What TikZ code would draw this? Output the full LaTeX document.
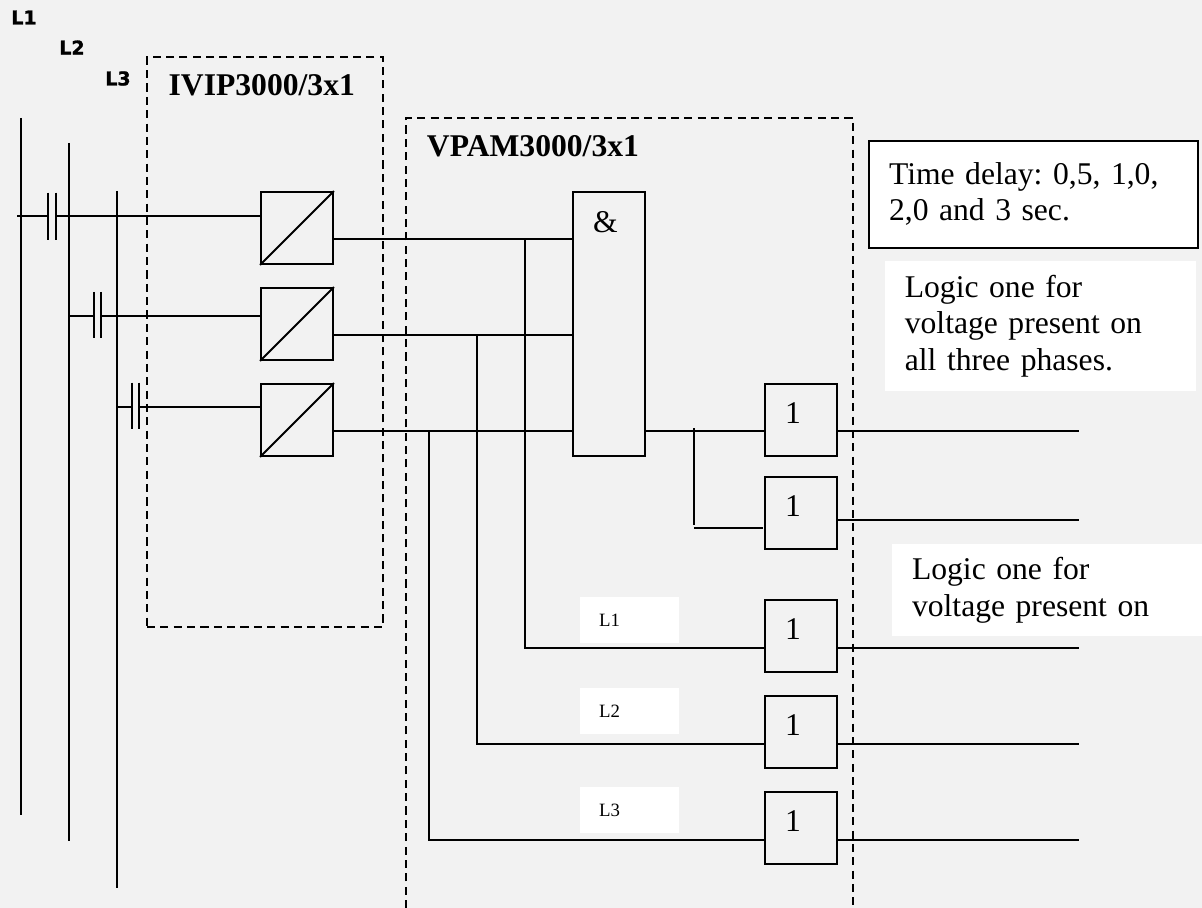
\documentclass[tikz,border=0pt]{standalone}
\usepackage{fontspec}
\setmainfont{Liberation Serif}
\newfontfamily\phasefont[BoldFeatures={FakeBold=1.2}]{DejaVu Sans}
\usetikzlibrary{shapes, calc}
\definecolor{pagegrey}{RGB}{242,242,242}
\frenchspacing

\tikzset{
    conv/.style={rectangle, draw, minimum size=1.44cm, inner sep=0pt},
    gate/.style={conv, label={[xshift=-.16cm, yshift=.134cm]center:\fontsize{18}{20}\selectfont 1}},
    dashbox/.style={line width=.85pt, dash pattern=on 4.6pt off 3pt},
    whitebox/.style={rectangle, fill=white, inner xsep=.4cm, inner ysep=0pt, align=left, font=\fontsize{18}{20.9}\selectfont},
    tagbox/.style={rectangle, fill=white, minimum width=1.98cm, minimum height=.92cm, inner xsep=.38cm, text width=1.22cm, inner ysep=0pt, align=left, font=\fontsize{10.7}{12}\selectfont},
    phase/.style={inner sep=0pt, font=\phasefont\bfseries\fontsize{10.8}{12}\selectfont},
    boxtitle/.style={anchor=base west, inner sep=0pt, font=\bfseries\fontsize{18}{20}\selectfont},
}

\begin{document}
\begin{tikzpicture}[x=.02cm, y=-.02cm, line width=1.1pt, node distance=1.92cm]
        \useasboundingbox (0,0) rectangle (1202,908);
        \fill[pagegrey] (0,0) rectangle (1202,908);

         %phase labels
        \node[phase] (p1) at (24,17.5) {L1};
        \node[phase] (p2) at (72,47.5) {L2};
        \node[phase] (p3) at (118,78.5) {L3};

         %dashed modules
        \node[rectangle, draw, dashbox, minimum width=4.72cm, minimum height=11.4cm, inner sep=0pt] (ivip) at (265,342) {};
        \coordinate (vpamsw) at (406,908);
        \coordinate (vpamne) at (853,118);
        \coordinate (vpamse) at (853,908);
        \draw[dashbox] (vpamsw) |- (vpamne) -- (vpamse);

        \node[boxtitle] (ivipt) at (167.7,96) {IVIP3000/3x1};
        \node[boxtitle] (vpamt) at (426,156.7) {VPAM3000/3x1};

         %converters
        \node[conv] (c1) at (297,228) {};
        \node[conv, below of=c1] (c2) {};
        \node[conv, below of=c2] (c3) {};

        \draw (c1.south west) -- (c1.north east);
        \draw (c2.south west) -- (c2.north east);
        \draw (c3.south west) -- (c3.north east);

         %and block
        \node[rectangle, draw, minimum width=1.44cm, minimum height=5.28cm, inner sep=0pt,
              label={[xshift=-.07cm, yshift=2.03cm]center:\fontsize{18}{20}\selectfont\&}] (and0) at (609,324) {};

         %output gates
        \node[gate] (g1) at (801,420) {};
        \node[gate, below of=g1, node distance=1.86cm] (g2) {};
        \node[gate, below of=g2, node distance=2.46cm] (g3) {};
        \node[gate, below of=g3] (g4) {};
        \node[gate, below of=g4] (g5) {};

         %text boxes
        \node[whitebox, draw, text width=5.78cm, minimum height=2.14cm] (delay) at (1033.5,194.5) {Time delay: 0,5, 1,0,\\2,0 and 3 sec.\rule[-.12cm]{0pt}{0pt}};
        \node[whitebox, text width=5.42cm, minimum height=2.59cm] (logic1) at (1040.3,326) {Logic one for\\voltage present on\\all three phases.};
        \node[whitebox, text width=5.4cm, minimum height=1.83cm] (logic2) at (1047,590) {Logic one for\\voltage present on};

        \node[tagbox] (t1) at (629.5,619.9) {L1};
        \node[tagbox] (t2) at (629.5,710.9) {L2};
        \node[tagbox] (t3) at (629.5,809.9) {L3};

         %bus bars
        \coordinate (l1a) at (21,118);
        \coordinate (l1b) at (21,815);
        \coordinate (l2a) at (69,143);
        \coordinate (l2b) at (69,840.5);
        \coordinate (l3a) at (117,191);
        \coordinate (l3b) at (117,888);
        \draw (l1a) -- (l1b);
        \draw (l2a) -- (l2b);
        \draw (l3a) -- (l3b);

         %capacitors
        \coordinate (k1a) at (48,192.7);
        \coordinate (k1b) at (48,240);
        \coordinate (k1c) at (56,192.7);
        \coordinate (k1d) at (56,240);
        \coordinate (k2a) at (94,292);
        \coordinate (k2b) at (94,338);
        \coordinate (k2c) at (101,292);
        \coordinate (k2d) at (101,338);
        \coordinate (k3a) at (132,382.7);
        \coordinate (k3b) at (132,429);
        \coordinate (k3c) at (139,382.7);
        \coordinate (k3d) at (139,429);
        \draw (k1a) -- (k1b);
        \draw (k1c) -- (k1d);
        \draw (k2a) -- (k2b);
        \draw (k2c) -- (k2d);
        \draw (k3a) -- (k3b);
        \draw (k3c) -- (k3d);

         %Draw input lines
        \coordinate (i1) at (17,216);
        \coordinate (i2) at (69,316);
        \coordinate (i3) at (116,407);
        \draw (i1) -- (i1 -| k1a);
        \draw (i1 -| k1c) -- (i1 -| c1.west);
        \draw (i2) -- (i2 -| k2a);
        \draw (i2 -| k2c) -- (i2 -| c2.west);
        \draw (i3) -- (i3 -| k3a);
        \draw (i3 -| k3c) -- (i3 -| c3.west);

         %Draw lines into the and block
        \coordinate (o1) at (c1.east |- 0,239);
        \coordinate (o2) at (c2.east |- 0,335);
        \coordinate (o3) at (c3.east |- 0,431);
        \draw (o1) -- (o1 -| and0.west);
        \draw (o2) -- (o2 -| and0.west);
        \draw (o3) -- (o3 -| and0.west);

         %Draw phase branches
        \coordinate (j1) at (525,239);
        \coordinate (j2) at (477,335);
        \coordinate (j3) at (429,431);
        \coordinate (e3) at (g3.west |- 0,648);
        \coordinate (e4) at (g4.west |- 0,744);
        \coordinate (e5) at (g5.west |- 0,840);
        \draw (j1) |- (e3);
        \draw (j2) |- (e4);
        \draw (j3) |- (e5);

         %Draw and block outputs
        \coordinate (a1) at (and0.east |- 0,431);
        \coordinate (b1) at (694,428);
        \coordinate (b2) at (694,525);
        \coordinate (b3) at (694,528);
        \coordinate (b4) at (763,528);
        \draw (a1) -- (a1 -| g1.west);
        \draw (b1) -- (b2);
        \draw (b3) -- (b4);

         %Draw gate outputs
        \coordinate (f1) at (1079,431);
        \coordinate (f2) at (1079,520);
        \coordinate (f3) at (1079,648);
        \coordinate (f4) at (1079,744);
        \coordinate (f5) at (1079,840);
        \draw (f1 -| g1.east) -- (f1);
        \draw (f2 -| g2.east) -- (f2);
        \draw (f3 -| g3.east) -- (f3);
        \draw (f4 -| g4.east) -- (f4);
        \draw (f5 -| g5.east) -- (f5);

    \end{tikzpicture}
\end{document}
